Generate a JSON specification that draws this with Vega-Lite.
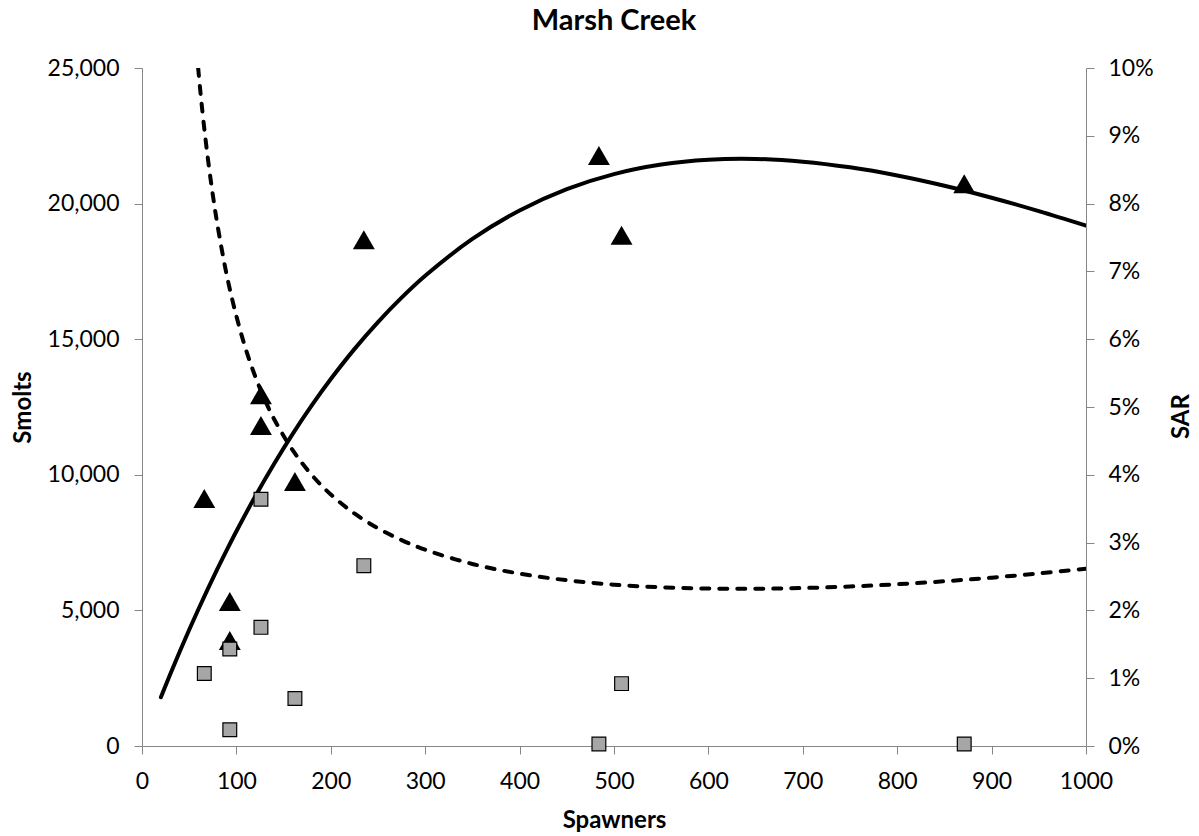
{
  "$schema": "https://vega.github.io/schema/vega-lite/v6.json",
  "width": 944,
  "height": 678,
  "autosize": {"type": "none"},
  "padding": {"left": 142, "top": 68, "right": 113, "bottom": 90},
  "background": "white",
  "config": {
    "view": {"stroke": null},
    "font": "Lato",
    "axis": {
      "grid": false,
      "domainColor": "#868686",
      "tickColor": "#868686",
      "domainWidth": 1,
      "tickWidth": 1,
      "tickSize": 8,
      "labelColor": "black",
      "titleColor": "black",
      "labelFont": "Lato",
      "titleFont": "Lato",
      "labelFontSize": 23,
      "titleFontSize": 24,
      "titleFontWeight": "bold",
      "labelFlush": false
    }
  },
  "title": {"text": "Marsh Creek", "font": "Lato", "fontSize": 29, "fontWeight": "bold", "color": "black", "anchor": "middle", "offset": 21},
  "datasets": {
    "obs": [
      {"Spawners": 66, "Smolts": 9130, "SAR": 0.0107},
      {"Spawners": 93, "Smolts": 5330, "SAR": 0.0143},
      {"Spawners": 93, "Smolts": 3890, "SAR": 0.0024},
      {"Spawners": 126, "Smolts": 12950, "SAR": 0.0364},
      {"Spawners": 126, "Smolts": 11820, "SAR": 0.0175},
      {"Spawners": 162, "Smolts": 9750, "SAR": 0.0070},
      {"Spawners": 235, "Smolts": 18670, "SAR": 0.0266},
      {"Spawners": 484, "Smolts": 21770, "SAR": 0.0003},
      {"Spawners": 508, "Smolts": 18830, "SAR": 0.0092},
      {"Spawners": 871, "Smolts": 20730, "SAR": 0.0003}
    ],
    "smoltFit": [
      {"Spawners": 20, "Smolts": 1797},
      {"Spawners": 30, "Smolts": 2653},
      {"Spawners": 40, "Smolts": 3482},
      {"Spawners": 50, "Smolts": 4284},
      {"Spawners": 60, "Smolts": 5061},
      {"Spawners": 70, "Smolts": 5812},
      {"Spawners": 80, "Smolts": 6538},
      {"Spawners": 90, "Smolts": 7240},
      {"Spawners": 100, "Smolts": 7919},
      {"Spawners": 120, "Smolts": 9208},
      {"Spawners": 140, "Smolts": 10410},
      {"Spawners": 160, "Smolts": 11528},
      {"Spawners": 180, "Smolts": 12567},
      {"Spawners": 200, "Smolts": 13530},
      {"Spawners": 225, "Smolts": 14634},
      {"Spawners": 250, "Smolts": 15632},
      {"Spawners": 275, "Smolts": 16531},
      {"Spawners": 300, "Smolts": 17338},
      {"Spawners": 350, "Smolts": 18696},
      {"Spawners": 400, "Smolts": 19748},
      {"Spawners": 450, "Smolts": 20535},
      {"Spawners": 500, "Smolts": 21089},
      {"Spawners": 550, "Smolts": 21441},
      {"Spawners": 600, "Smolts": 21618},
      {"Spawners": 650, "Smolts": 21647},
      {"Spawners": 700, "Smolts": 21546},
      {"Spawners": 750, "Smolts": 21337},
      {"Spawners": 800, "Smolts": 21036},
      {"Spawners": 850, "Smolts": 20658},
      {"Spawners": 900, "Smolts": 20217},
      {"Spawners": 950, "Smolts": 19724},
      {"Spawners": 1000, "Smolts": 19190}
    ],
    "sarFit": [
      {"Spawners": 59.5, "SAR": 0.1},
      {"Spawners": 62, "SAR": 0.0963},
      {"Spawners": 65, "SAR": 0.0923},
      {"Spawners": 70, "SAR": 0.0864},
      {"Spawners": 75, "SAR": 0.0813},
      {"Spawners": 80, "SAR": 0.0768},
      {"Spawners": 90, "SAR": 0.0693},
      {"Spawners": 100, "SAR": 0.0634},
      {"Spawners": 110, "SAR": 0.0585},
      {"Spawners": 120, "SAR": 0.0545},
      {"Spawners": 130, "SAR": 0.0511},
      {"Spawners": 140, "SAR": 0.0482},
      {"Spawners": 160, "SAR": 0.04355},
      {"Spawners": 180, "SAR": 0.03995},
      {"Spawners": 200, "SAR": 0.0371},
      {"Spawners": 225, "SAR": 0.0343},
      {"Spawners": 250, "SAR": 0.03211},
      {"Spawners": 275, "SAR": 0.03037},
      {"Spawners": 300, "SAR": 0.02895},
      {"Spawners": 350, "SAR": 0.02685},
      {"Spawners": 400, "SAR": 0.02542},
      {"Spawners": 450, "SAR": 0.02445},
      {"Spawners": 500, "SAR": 0.0238},
      {"Spawners": 550, "SAR": 0.02341},
      {"Spawners": 600, "SAR": 0.02322},
      {"Spawners": 650, "SAR": 0.02319},
      {"Spawners": 700, "SAR": 0.0233},
      {"Spawners": 750, "SAR": 0.02353},
      {"Spawners": 800, "SAR": 0.02386},
      {"Spawners": 850, "SAR": 0.0243},
      {"Spawners": 900, "SAR": 0.02483},
      {"Spawners": 950, "SAR": 0.02545},
      {"Spawners": 1000, "SAR": 0.02616}
    ]
  },
  "encoding": {
    "x": {
      "field": "Spawners",
      "type": "quantitative",
      "scale": {"domain": [0, 1000], "nice": false},
      "axis": {
        "values": [0, 100, 200, 300, 400, 500, 600, 700, 800, 900, 1000],
        "format": "d",
        "title": "Spawners",
        "labelPadding": 16,
        "titlePadding": 15
      }
    }
  },
  "layer": [
    {
      "encoding": {
        "y": {
          "field": "Smolts",
          "type": "quantitative",
          "scale": {"domain": [0, 25000], "nice": false},
          "axis": {
            "values": [0, 5000, 10000, 15000, 20000, 25000],
            "format": ",d",
            "title": "Smolts",
            "titleX": -107,
            "labelPadding": 15,
            "titlePadding": 3
          }
        }
      },
      "layer": [
        {
          "data": {"name": "smoltFit"},
          "mark": {"type": "line", "color": "black", "strokeWidth": 4, "strokeCap": "round", "interpolate": "catmull-rom", "clip": true}
        },
        {
          "data": {"name": "obs"},
          "mark": {"type": "point", "shape": "triangle-up", "filled": true, "color": "black", "opacity": 1, "size": 480}
        }
      ]
    },
    {
      "encoding": {
        "y": {
          "field": "SAR",
          "type": "quantitative",
          "scale": {"domain": [0, 0.1], "nice": false},
          "axis": {
            "orient": "right",
            "values": [0, 0.01, 0.02, 0.03, 0.04, 0.05, 0.06, 0.07, 0.08, 0.09, 0.1],
            "format": ".0%",
            "title": "SAR",
            "titleAngle": 270,
            "titleBaseline": "top",
            "titleY": 348,
            "labelPadding": 14,
            "titlePadding": 16
          }
        }
      },
      "layer": [
        {
          "data": {"name": "sarFit"},
          "mark": {"type": "line", "color": "black", "strokeWidth": 4, "strokeDash": [8, 10], "strokeCap": "round", "interpolate": "catmull-rom", "clip": true}
        },
        {
          "data": {"name": "obs"},
          "mark": {"type": "point", "shape": "square", "filled": true, "fill": "#A6A6A6", "stroke": "black", "strokeWidth": 1.2, "opacity": 1, "size": 190}
        }
      ]
    }
  ],
  "resolve": {"scale": {"y": "independent"}}
}
